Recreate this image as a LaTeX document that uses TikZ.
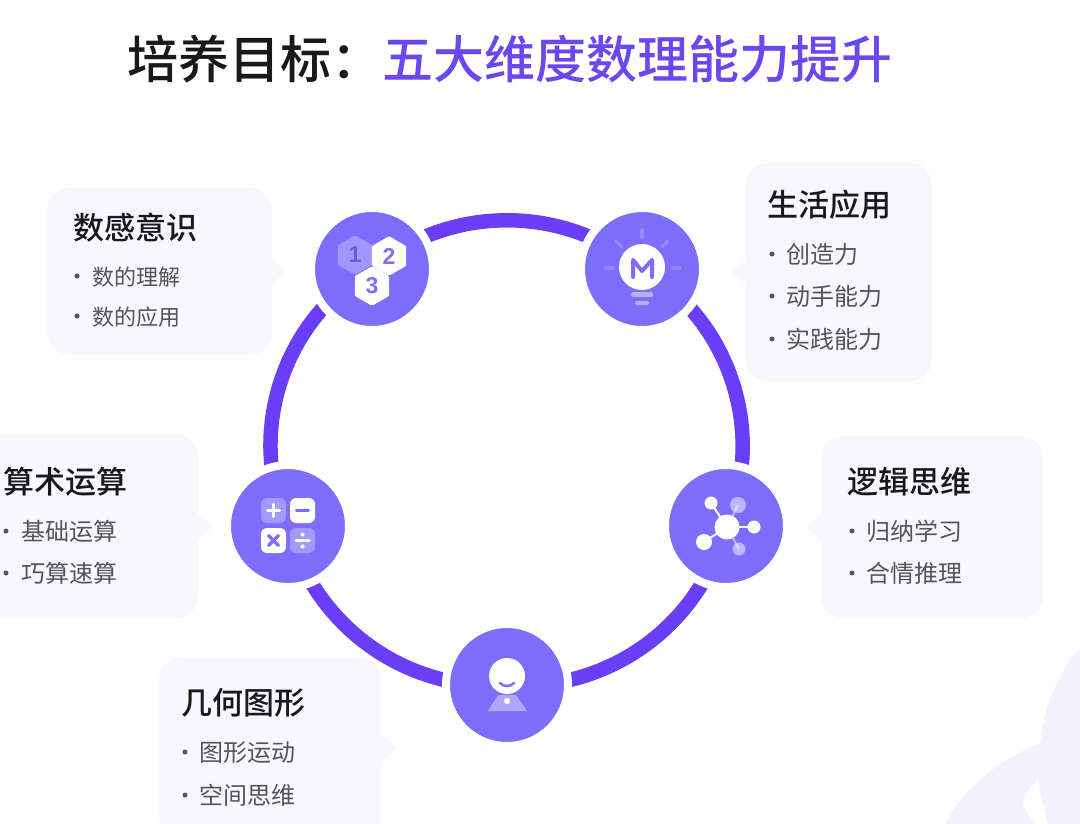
\documentclass[tikz,border=0pt]{standalone}
\usepackage{fontspec}
\usepackage{xcolor}
\setsansfont{Liberation Sans}
\newfontfamily\cjk{Noto Sans CJK SC}
\newfontfamily\cjkmed{Noto Sans CJK SC Medium}
\definecolor{ringc}{HTML}{6A3DF7}
\definecolor{hubc}{HTML}{7C6DFB}
\definecolor{titlec}{HTML}{6A48EE}
\definecolor{cardc}{HTML}{F8F7FE}
\definecolor{decoc}{HTML}{F3F1FE}
\definecolor{itemc}{HTML}{555555}
\usetikzlibrary{
    positioning,
    calc,
    backgrounds,
    shapes.geometric,
}
\begin{document}
\begin{tikzpicture}[
    x=1pt, y=-1pt,
    hub/.style={circle, fill=hubc, draw=white, line width=8pt, minimum size=122pt, inner sep=0pt},
    ring/.style={ringc, line width=14.5pt, bend left=40, looseness=0.96},
    card/.style={rectangle, fill=cardc, rounded corners=22pt, inner sep=0pt, anchor=north west},
    tip/.style={cardc, rounded corners=2pt},
    title/.style={font=\cjkmed\fontsize{51}{56}\selectfont, anchor=west, inner sep=0pt, text=black!90, text height=44pt, text depth=6pt},
    head/.style={font=\cjkmed\fontsize{31}{36}\selectfont, anchor=west, inner sep=0pt, text=black!90, text height=26pt, text depth=4pt},
    item/.style={font=\cjk\fontsize{24}{30}\selectfont, anchor=west, inner sep=0pt, text=itemc, text height=21pt, text depth=3pt},
    smallitem/.style={item, font=\cjk\fontsize{22}{28}\selectfont},
    dot/.style={circle, fill=itemc, minimum size=5pt, inner sep=0pt},
    hex/.style={regular polygon, regular polygon sides=6, shape border rotate=30, minimum size=35pt, inner sep=0pt,
                line width=4pt, line join=round, draw=white, fill=white,
                font=\sffamily\bfseries\fontsize{23}{23}\selectfont, text=hubc},
    tile/.style={rectangle, rounded corners=6pt, minimum size=25pt, inner sep=0pt},
    ray/.style={hubc!82!white, line width=3.5pt, line cap=round},
    mark line/.style={line width=3.5pt, line cap=round},
    link/.style={white, line width=2pt},
]
    \path[use as bounding box, clip] (0,0) rectangle (1080,824);

    % Corner decoration
    \fill[decoc] (1080,648) .. controls (1058,672) and (1044,708) .. (1040,743)
        .. controls (1000,760) and (965,785) .. (945,824) -- (1080,824) -- cycle;
    \fill[white] (1038,778) .. controls (1030,788) and (1024,796) .. (1023,803)
        .. controls (1024,810) and (1030,818) .. (1035,824) -- (1048,824)
        .. controls (1044,808) and (1040,792) .. (1038,778) -- cycle;

    % Title
    \node[title] (title1) at (127,60) {培养目标：};
    \node[title, text=titlec] (title2) at (382,60) {五大维度数理能力提升};

    % Hubs
    \node[hub] (sense) at (372,269) {};
    \node[hub] (life) at (642,269) {};
    \node[hub] (logic) at (726,526) {};
    \node[hub] (shape) at (507,685) {};
    \node[hub] (calc) at (288,526) {};

    % Ring
    \begin{scope}[on background layer]
        \draw[ring] (sense.center) to (life.center);
        \draw[ring, bend left=42] (life.center) to (logic.center);
        \draw[ring] (logic.center) to (shape.center);
        \draw[ring] (shape.center) to (calc.center);
        \draw[ring, bend left=43] (calc.center) to (sense.center);
    \end{scope}

    % Cards
    \node[card, minimum width=225pt, minimum height=167pt] (sensecard) at (47,188) {};
    \fill[tip] ($(sensecard.east)+(-2,-14)$) -- ++(16,14) -- ++(-16,14) -- cycle;
    \node[card, minimum width=187pt, minimum height=218pt] (lifecard) at (745,163) {};
    \fill[tip] ($(lifecard.west)+(2,-14)$) -- ++(-17,14) -- ++(17,14) -- cycle;
    \node[card, minimum width=222pt, minimum height=182pt] (logiccard) at (821,436) {};
    \fill[tip] ($(logiccard.west)+(2,-14)$) -- ++(-17,14) -- ++(17,14) -- cycle;
    \node[card, minimum width=228pt, minimum height=184pt] (calccard) at (-30,434) {};
    \fill[tip] ($(calccard.east)+(-2,-14)$) -- ++(17,14) -- ++(-17,14) -- cycle;
    \node[card, minimum width=222pt, minimum height=182pt] (shapecard) at (159,657) {};
    \fill[tip] ($(shapecard.east)+(-2,-14)$) -- ++(18,14) -- ++(-18,14) -- cycle;

    % Number sense
    \node[head] (sensehead) at (73,229) {数感意识};
    \node[dot] (sensedot1) at (77,276) {};
    \node[smallitem] (senseitem1) at (92,276) {数的理解};
    \node[dot] (sensedot2) at (77,316) {};
    \node[smallitem] (senseitem2) at (92,316) {数的应用};

    % Daily use
    \node[head] (lifehead) at (767,205) {生活应用};
    \node[dot] (lifedot1) at (772,254) {};
    \node[item] (lifeitem1) at (786,254) {创造力};
    \node[dot] (lifedot2) at (772,296) {};
    \node[item] (lifeitem2) at (786,296) {动手能力};
    \node[dot] (lifedot3) at (772,339) {};
    \node[item] (lifeitem3) at (786,339) {实践能力};

    % Logic
    \node[head] (logichead) at (847,482) {逻辑思维};
    \node[dot] (logicdot1) at (852,531) {};
    \node[item] (logicitem1) at (866,531) {归纳学习};
    \node[dot] (logicdot2) at (852,573) {};
    \node[item] (logicitem2) at (866,573) {合情推理};

    % Arithmetic
    \node[head] (calchead) at (3,482) {算术运算};
    \node[dot] (calcdot1) at (6,531) {};
    \node[item] (calcitem1) at (21,531) {基础运算};
    \node[dot] (calcdot2) at (6,573) {};
    \node[item] (calcitem2) at (21,573) {巧算速算};

    % Geometry
    \node[head] (shapehead) at (181,703) {几何图形};
    \node[dot] (shapedot1) at (185,752) {};
    \node[item] (shapeitem1) at (199,752) {图形运动};
    \node[dot] (shapedot2) at (185,795) {};
    \node[item] (shapeitem2) at (199,795) {空间思维};

    % Icon: hexagons
    \node[hex, draw=hubc!72!white, fill=hubc!72!white, text=hubc!85!black] (hexa) at (355,255) {1};
    \node[hex] (hexb) at (389,256) {2};
    \node[hex] (hexc) at (372,286) {3};

    % Icon: bulb
    \foreach \xa/\ya/\xb/\yb in {642/230/642/238, 616/241/622/247, 668/241/662/247, 605/268/613/268, 672/268/680/268}
        \draw[ray] (\xa,\ya) -- (\xb,\yb);
    \fill[white] (642,267) circle (23);
    \draw[mark line, line width=4pt, hubc, line join=round] (633,277) -- (633,260) -- (642,271) -- (652,260) -- (652,277);
    \fill[white, opacity=0.45, rounded corners=1.5pt] (631,292) rectangle (653,297);
    \fill[white, opacity=0.45, rounded corners=1.5pt] (635,301) rectangle (649,305);

    % Icon: network
    \draw[link] (727,527) -- (711,503);
    \draw[link] (727,527) -- (754,527);
    \draw[link] (727,527) -- (704,542);
    \draw[link, opacity=0.5] (727,527) -- (738,505);
    \draw[link, opacity=0.5] (727,527) -- (739,549);
    \fill[white] (727,527) circle (12.5);
    \fill[white] (711,503) circle (6.5);
    \fill[white] (754,527) circle (6.5);
    \fill[white] (704,542) circle (8);
    \fill[white, opacity=0.5] (738,505) circle (8);
    \fill[white, opacity=0.5] (739,549) circle (6.5);

    % Icon: person
    \fill[white, opacity=0.4] (498,695) -- (516,695) -- (527,711) -- (488,711) -- cycle;
    \fill[white] (507,676) circle (18);
    \draw[hubc, line width=2.5pt, line cap=round] (500,683) .. controls (503,687) and (511,687) .. (514,683);
    \fill[white] (507,701) circle (3);

    % Icon: calculator
    \node[tile, fill=white, fill opacity=0.3] (tilea) at (273.5,510.5) {};
    \node[tile, fill=white] (tileb) at (302.5,510.5) {};
    \node[tile, fill=white] (tilec) at (273.5,540.5) {};
    \node[tile, fill=white, fill opacity=0.3] (tiled) at (302.5,540.5) {};
    \draw[mark line, white] ($(tilea.center)+(-6,0)$) -- ($(tilea.center)+(6,0)$);
    \draw[mark line, white] ($(tilea.center)+(0,-6)$) -- ($(tilea.center)+(0,6)$);
    \draw[mark line, hubc] ($(tileb.center)+(-6,0)$) -- ($(tileb.center)+(6,0)$);
    \draw[mark line, hubc] ($(tilec.center)+(-5,-5)$) -- ($(tilec.center)+(5,5)$);
    \draw[mark line, hubc] ($(tilec.center)+(-5,5)$) -- ($(tilec.center)+(5,-5)$);
    \draw[white, line width=2.5pt, line cap=round] ($(tiled.center)+(-7,0)$) -- ($(tiled.center)+(7,0)$);
    \fill[white] ($(tiled.center)+(0,-6)$) circle (2);
    \fill[white] ($(tiled.center)+(0,6)$) circle (2);
\end{tikzpicture}
\end{document}
